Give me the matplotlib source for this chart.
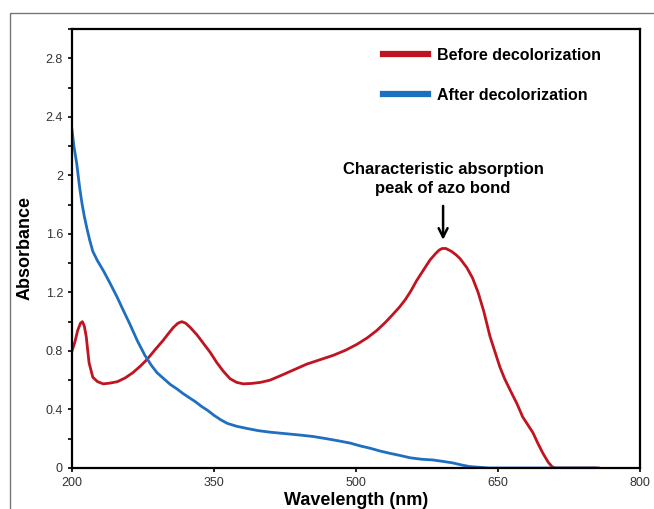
import numpy as np
import matplotlib.pyplot as plt
from matplotlib.patches import Rectangle
from matplotlib.ticker import FuncFormatter, MultipleLocator

# --- data ---
wl_before = [200, 203, 206, 209, 211, 213, 215, 218, 222, 227, 233, 240, 248, 256, 264, 272,
             279, 288, 296, 302, 307, 312, 316, 320, 325, 332, 339, 346, 353, 360, 367, 374,
             381, 390, 399, 409, 420, 434, 448, 462, 476, 489, 501, 512, 522, 531, 539, 546,
             552, 558, 564, 571, 578, 584, 588, 591, 595, 601, 606, 610, 617, 623, 629, 635,
             641.5, 647, 652, 657, 663, 670, 676, 682, 687, 692, 697.5, 703, 707, 710, 730, 756]
abs_before = [0.80, 0.86, 0.94, 0.99, 1.00, 0.97, 0.90, 0.72, 0.62, 0.59, 0.575, 0.58, 0.59,
              0.615, 0.65, 0.695, 0.74, 0.81, 0.87, 0.92, 0.96, 0.99, 1.00, 0.99, 0.96, 0.91,
              0.85, 0.79, 0.72, 0.66, 0.61, 0.585, 0.575, 0.578, 0.585, 0.60, 0.63, 0.67, 0.71,
              0.74, 0.77, 0.805, 0.845, 0.89, 0.94, 0.995, 1.05, 1.10, 1.15, 1.21, 1.28, 1.35,
              1.42, 1.465, 1.49, 1.50, 1.50, 1.48, 1.455, 1.43, 1.37, 1.30, 1.20, 1.07, 0.90,
              0.79, 0.69, 0.61, 0.53, 0.44, 0.35, 0.29, 0.24, 0.17, 0.10, 0.04, 0.01, 0.0,
              0.0, 0.0]

wl_after = [200, 202, 205, 208, 210.5, 213, 216, 219, 222, 227, 233, 240, 247.5, 254, 261,
            269, 277, 284, 290, 297, 304, 311, 317, 324, 331, 337, 343, 350, 357, 364, 374,
            385, 397, 409, 425, 441, 455, 469, 482, 494, 505, 515, 526, 536, 547, 557, 569,
            581, 592, 602, 612, 620, 640, 700, 753]
abs_after = [2.31, 2.20, 2.08, 1.92, 1.81, 1.72, 1.63, 1.55, 1.48, 1.415, 1.35, 1.265, 1.17,
             1.08, 0.985, 0.87, 0.77, 0.70, 0.65, 0.61, 0.57, 0.54, 0.51, 0.48, 0.45, 0.42,
             0.395, 0.36, 0.33, 0.305, 0.285, 0.27, 0.255, 0.245, 0.235, 0.225, 0.215, 0.20,
             0.185, 0.17, 0.15, 0.135, 0.115, 0.10, 0.085, 0.07, 0.06, 0.055, 0.045, 0.035,
             0.02, 0.01, 0.0, 0.0, 0.0]

red = '#C01420'
blue = '#1F6FC0'

fig = plt.figure(figsize=(6.54, 5.09), dpi=100)
plt.rcParams['font.family'] = ['Liberation Sans', 'DejaVu Sans']

# grey outer frame (partly cut off in the original)
fig.patches.append(Rectangle((10 / 654, -0.1), 1.2, 1.1 - 13 / 509, transform=fig.transFigure,
                             fill=False, edgecolor='#777777', lw=1.0))

ax = fig.add_axes([72 / 654, 1 - 468 / 509, (640 - 72) / 654, (468 - 29) / 509])

ax.plot(wl_before, abs_before, color=red, lw=2.0, solid_joinstyle='round',
        label='Before decolorization')
ax.plot(wl_after, abs_after, color=blue, lw=2.0, solid_joinstyle='round',
        label='After decolorization')

ax.set_xlim(200, 800)
ax.set_ylim(0, 3.0)
ax.set_xticks([200, 350, 500, 650, 800])
ax.set_yticks([0, 0.4, 0.8, 1.2, 1.6, 2.0, 2.4, 2.8])
ax.yaxis.set_minor_locator(MultipleLocator(0.2))
ax.yaxis.set_major_formatter(FuncFormatter(lambda v, p: f'{v:g}'))
ax.tick_params(axis='both', which='major', labelsize=9, labelcolor='#333333',
               length=3, width=1.2, direction='out')
ax.tick_params(axis='y', which='minor', length=3, width=1.2, direction='out')
for s in ax.spines.values():
    s.set_linewidth(1.6)

ax.set_xlabel('Wavelength (nm)', fontsize=13, fontweight='bold', labelpad=2)
ax.set_ylabel('Absorbance', fontsize=13, fontweight='bold', labelpad=9)

ax.legend(loc='upper left', bbox_to_anchor=(0.522, 0.99), frameon=False,
          prop={'weight': 'bold', 'size': 11.5}, handlelength=2.8, handletextpad=0.6,
          labelspacing=1.55)
for line in ax.get_legend().get_lines():
    line.set_linewidth(4.5)

ax.annotate('', xy=(592, 1.54), xytext=(592, 1.81),
            arrowprops=dict(arrowstyle='->', color='black', lw=1.8, mutation_scale=16))
ax.text(592, 1.86, 'Characteristic absorption\npeak of azo bond', ha='center', va='bottom',
        fontsize=12, fontweight='bold', linespacing=1.3)

plt.savefig('out.png', dpi=100)
